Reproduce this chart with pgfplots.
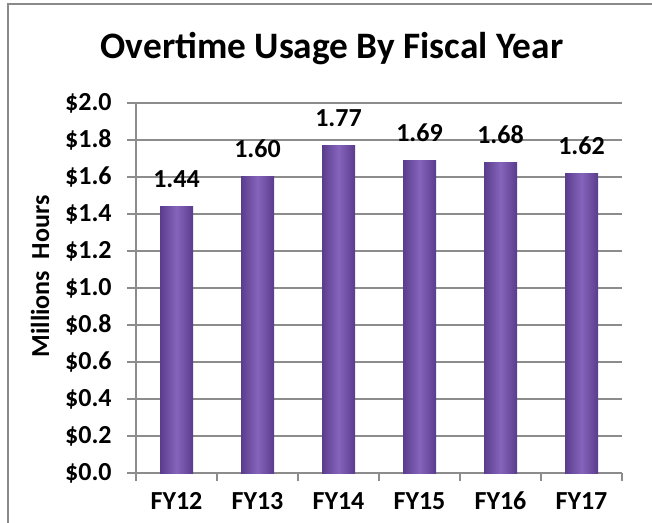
\documentclass[border=0pt]{standalone}
\usepackage{pgfplots}
\pgfplotsset{compat=1.18}
\usepackage{fontspec}
\setmainfont{Carlito}
\definecolor{bardark}{HTML}{5A3C8C}
\definecolor{barmid}{HTML}{8565BC}
\definecolor{gridgray}{HTML}{8C8C8C}
\definecolor{framegray}{HTML}{8A8A8A}
\begin{document}
\begin{tikzpicture}
\useasboundingbox (0,0) rectangle (489pt,-392.25pt);
\draw[framegray, line width=1.2pt] (6pt,-392.25pt) -- (6pt,-3pt) -- (489pt,-3pt);
\node[font=\bfseries\fontsize{28}{32}\selectfont, anchor=base] at (249pt,-44.25pt) {Overtime Usage By Fiscal Year};
\node[font=\bfseries\fontsize{19.5}{22}\selectfont, rotate=90, anchor=center] at (30pt,-207.4pt) {Millions\ \ Hours};
\begin{axis}[
  at={(102pt,-354.75pt)}, anchor=south west,
  scale only axis, width=364.5pt, height=277.5pt,
  xmin=-0.5, xmax=5.5, ymin=0, ymax=2,
  axis lines*=left,
  axis line style={gridgray, line width=0.8pt},
  xtick={0,...,5},
  xticklabels={FY12,FY13,FY14,FY15,FY16,FY17},
  minor xtick={-0.5,0.5,...,5.5},
  major x tick style={draw=none},
  minor x tick style={gridgray, line width=0.8pt},
  minor tick length=6pt,
  ytick={0,0.2,...,2.01},
  tick align=outside,
  major tick length=6.75pt,
  y tick style={gridgray, line width=0.8pt},
  ymajorgrids,
  grid style={gridgray, line width=0.8pt},
  /pgf/number format/assume math mode=true,
  yticklabel={\$\pgfmathprintnumber[fixed,fixed zerofill,precision=1]{\tick}},
  ticklabel style={font=\bfseries\fontsize{19.5}{22}\selectfont},
  xticklabel style={yshift=-4pt, text height=13pt, text depth=0pt},
  yticklabel style={xshift=-8pt},
  nodes near coords={\pgfmathprintnumber[fixed,fixed zerofill,precision=2]{\pgfplotspointmeta}},
  nodes near coords style={font=\bfseries\fontsize{19.5}{22}\selectfont, anchor=south, inner sep=0pt, yshift=14pt, text=black},
  clip=false,
  mybar/.style={ybar, bar width=24.75pt, bar shift=0pt, draw=none, mark=none, left color=bardark, right color=bardark, middle color=barmid},
]
\addplot[mybar] coordinates {(0,1.44)};
\addplot[mybar] coordinates {(1,1.60)};
\addplot[mybar] coordinates {(2,1.77)};
\addplot[mybar] coordinates {(3,1.69)};
\addplot[mybar] coordinates {(4,1.68)};
\addplot[mybar] coordinates {(5,1.62)};
\end{axis}
\end{tikzpicture}
\end{document}
